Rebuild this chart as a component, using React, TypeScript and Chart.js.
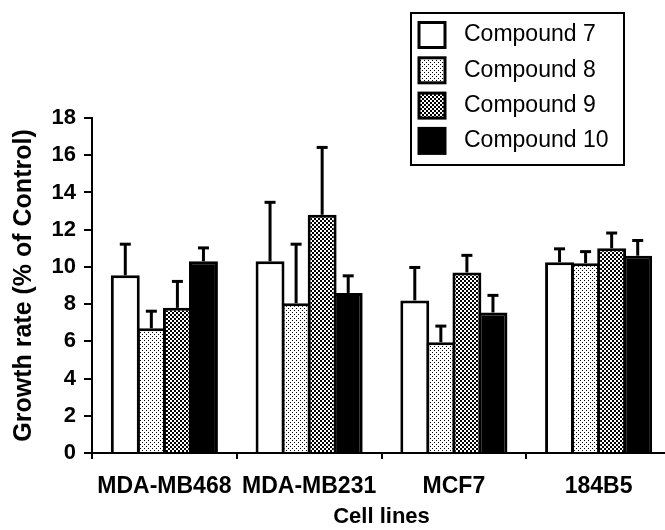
import React, { useEffect, useRef } from "react";
import { Chart, registerables } from "chart.js";

Chart.register(...registerables);

const categories = ["MDA-MB468", "MDA-MB231", "MCF7", "184B5"];
const seriesLabels = ["Compound 7", "Compound 8", "Compound 9", "Compound 10"];
const compound7 = [9.55, 10.3, 8.2, 10.25];
const compound8 = [6.7, 8.05, 5.95, 10.2];
const compound9 = [7.8, 12.8, 9.7, 11.0];
const compound10 = [10.3, 8.6, 7.55, 10.6];
const err7 = [1.75, 3.25, 1.85, 0.8];
const err8 = [1.0, 3.25, 0.95, 0.7];
const err9 = [1.5, 3.7, 1.0, 0.9];
const err10 = [0.8, 1.0, 1.0, 0.9];
const yMin = 0;
const yMax = 18;
const yStep = 2;
const yTitle = "Growth rate (% of Control)";
const xTitle = "Cell lines";

const FONT = "'Liberation Sans', Arial, Helvetica, sans-serif";

function makeFill(ctx: CanvasRenderingContext2D, kind: string): any {
  if (kind === "white") return "#ffffff";
  if (kind === "black") return "#000000";
  const c = document.createElement("canvas");
  c.width = 4;
  c.height = 4;
  const g = c.getContext("2d")!;
  g.fillStyle = "#ffffff";
  g.fillRect(0, 0, 4, 4);
  g.fillStyle = "#000000";
  if (kind === "dots") {
    g.fillRect(0, 0, 1, 1);
    g.fillRect(2, 2, 1, 1);
  } else {
    g.fillRect(0, 0, 2, 2);
    g.fillRect(2, 2, 2, 2);
  }
  return ctx.createPattern(c, "repeat");
}

const errorBarsPlugin = {
  id: "errorBars",
  afterDatasetsDraw(chart: any) {
    const ctx = chart.ctx;
    const y = chart.scales.y;
    chart.data.datasets.forEach((ds: any, i: number) => {
      const meta = chart.getDatasetMeta(i);
      meta.data.forEach((bar: any, j: number) => {
        const top = y.getPixelForValue(ds.data[j] + ds.errors[j]);
        ctx.save();
        ctx.strokeStyle = "#000";
        ctx.lineWidth = 3;
        ctx.beginPath();
        ctx.moveTo(bar.x, bar.y);
        ctx.lineTo(bar.x, top + 1.5);
        ctx.stroke();
        ctx.beginPath();
        ctx.moveTo(bar.x - 5.5, top + 1.5);
        ctx.lineTo(bar.x + 5.5, top + 1.5);
        ctx.stroke();
        ctx.restore();
      });
    });
  },
};

const boxLegendPlugin = {
  id: "boxLegend",
  afterDraw(chart: any) {
    const ctx = chart.ctx;
    ctx.save();
    ctx.lineWidth = 2;
    ctx.strokeStyle = "#000";
    ctx.fillStyle = "#fff";
    ctx.fillRect(411, 13, 213, 152);
    ctx.strokeRect(411, 13, 213, 152);
    chart.data.datasets.forEach((ds: any, i: number) => {
      const cy = 35 + i * 35.3;
      ctx.fillStyle = ds.backgroundColor;
      ctx.fillRect(419, cy - 12.5, 26, 25);
      ctx.lineWidth = 3;
      ctx.strokeRect(419, cy - 12.5, 26, 25);
      ctx.fillStyle = "#000";
      ctx.font = `23px ${FONT}`;
      ctx.textBaseline = "middle";
      ctx.textAlign = "left";
      ctx.fillText(ds.label, 464, cy);
    });
    ctx.restore();
  },
};

export default function App() {
  const ref = useRef<HTMLCanvasElement | null>(null);

  useEffect(() => {
    const canvas = ref.current!;
    const ctx = canvas.getContext("2d")!;
    const fills = [
      makeFill(ctx, "white"),
      makeFill(ctx, "dots"),
      makeFill(ctx, "checker"),
      makeFill(ctx, "black"),
    ];
    const values = [compound7, compound8, compound9, compound10];
    const errors = [err7, err8, err9, err10];
    const chart = new Chart(ctx, {
      type: "bar",
      data: {
        labels: categories,
        datasets: seriesLabels.map((label, i) => ({
          label,
          data: values[i],
          errors: errors[i],
          backgroundColor: fills[i],
          borderColor: "#000",
          borderWidth: 3,
          barPercentage: 1.11,
          categoryPercentage: 0.72,
        })) as any,
      },
      options: {
        responsive: false,
        animation: false,
        layout: { padding: { top: 118, right: 9, bottom: 0, left: 0 } },
        plugins: {
          legend: { display: false },
          tooltip: { enabled: false },
        },
        scales: {
          x: {
            ticks: {
              color: "#000",
              font: { family: FONT, size: 23, weight: "bold" },
              padding: 14,
              maxRotation: 0,
              autoSkip: false,
            },
            grid: {
              drawOnChartArea: false,
              drawTicks: true,
              tickLength: 6,
              color: "#000",
              lineWidth: 2,
              offset: true,
            },
            border: { display: true, color: "#000", width: 2 },
            title: {
              display: true,
              text: xTitle,
              color: "#000",
              font: { family: FONT, size: 22, weight: "bold" },
              padding: { top: 0, bottom: 0 },
            },
            afterFit: (s: any) => {
              s.height = 77;
            },
          },
          y: {
            min: yMin,
            max: yMax,
            ticks: {
              stepSize: yStep,
              color: "#000",
              font: { family: FONT, size: 22, weight: "bold" },
              padding: 8,
            },
            grid: {
              drawOnChartArea: false,
              drawTicks: true,
              tickLength: 8,
              color: "#000",
              lineWidth: 2,
            },
            border: { display: true, color: "#000", width: 2 },
            title: {
              display: true,
              text: yTitle,
              color: "#000",
              font: { family: FONT, size: 25, weight: "bold" },
              padding: { top: 9, bottom: 0 },
            },
            afterFit: (s: any) => {
              s.width = 92;
            },
          },
        },
      } as any,
      plugins: [errorBarsPlugin, boxLegendPlugin],
    });
    return () => chart.destroy();
  }, []);

  return (
    <div
      style={{
        position: "fixed",
        left: 0,
        top: 0,
        width: 665,
        height: 530,
        overflow: "hidden",
        background: "#fff",
      }}
    >
      <canvas
        ref={ref}
        width={680}
        height={530}
        style={{ display: "block", width: 680, height: 530 }}
      />
    </div>
  );
}
